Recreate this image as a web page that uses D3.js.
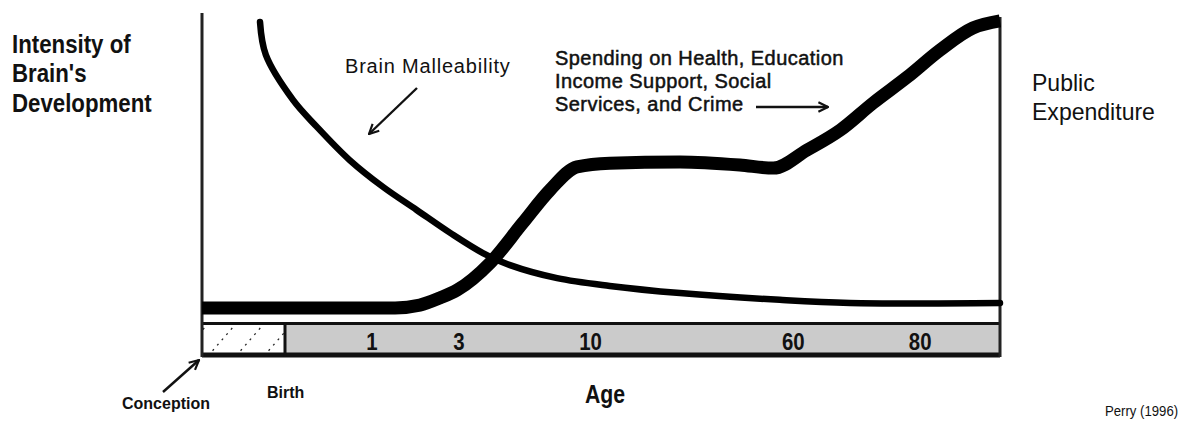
<!DOCTYPE html>
<html>
<head>
<meta charset="utf-8">
<script src="https://cdn.jsdelivr.net/npm/d3@7"></script>
<style>
  body { margin: 0; background: #fff; }
  text { font-family: "Liberation Sans", Arial, sans-serif; fill: #111; }
</style>
</head>
<body>
<div id="my_dataviz"></div>
<script>
// position along the life axis (0 = conception, 100 = end) and curve intensity (0-100)
const spendingPos = [0, 24.2, 27.3, 29.8, 32.0, 36.1, 40.2, 43.6, 47.0, 51.1, 59.9, 67.4, 71.6, 75.8, 80.0, 84.1, 88.4, 92.5, 96.6, 100];
const spendingVal = [3.9, 3.9, 4.8, 7.1, 9.7, 18.4, 31.3, 41.9, 49.4, 50.6, 51.0, 50.0, 49.0, 54.8, 61.3, 70.0, 78.4, 87.1, 94.2, 96.5];

const brainPos = [7.27, 8.0, 11.4, 14.4, 18.5, 22.7, 26.9, 31.1, 35.2, 38.6, 44.5, 51.1, 59.9, 72.4, 81.2, 100];
const brainVal = [96.1, 85.5, 71.0, 62.3, 51.6, 42.9, 35.5, 28.1, 21.6, 17.7, 13.5, 11.0, 8.7, 6.5, 5.5, 5.5];

// age labels on the bar
const ageLabels = ["1", "3", "10", "60", "80"];
const agePos = [21.3, 32.2, 48.7, 74.1, 90.0];
const birthPos = 10.4;

const width = 1190, height = 426;
const margin = { top: 10, left: 202, right: 190, bottom: 104 };

const svg = d3.select("#my_dataviz")
  .append("svg")
  .attr("width", width)
  .attr("height", height);

const x = d3.scaleLinear().domain([0, 100]).range([margin.left, width - margin.right]);
const y = d3.scaleLinear().domain([0, 100]).range([320, 10]);

const defs = svg.append("defs");

// hatch pattern for the prenatal part of the bar
const pat = defs.append("pattern")
  .attr("id", "hatch")
  .attr("patternUnits", "userSpaceOnUse")
  .attr("width", 28).attr("height", 36)
  .attr("x", x(0) + 6).attr("y", 322);
pat.append("rect").attr("width", 28).attr("height", 36).attr("fill", "#fff");
pat.append("line")
  .attr("x1", 0).attr("y1", 34).attr("x2", 26).attr("y2", 4)
  .attr("stroke", "#222").attr("stroke-width", 1.3)
  .attr("stroke-dasharray", "2 5");

// age bar
const barTop = 322, barBottom = 357;
svg.append("rect")
  .attr("x", x(birthPos)).attr("y", barTop)
  .attr("width", x(100) - x(birthPos)).attr("height", barBottom - barTop)
  .attr("fill", "#cbcbcb");
svg.append("rect")
  .attr("x", x(0)).attr("y", barTop)
  .attr("width", x(birthPos) - x(0)).attr("height", barBottom - barTop)
  .attr("fill", "url(#hatch)");
svg.append("line")
  .attr("x1", x(0)).attr("x2", x(100))
  .attr("y1", barTop + 1.5).attr("y2", barTop + 1.5)
  .attr("stroke", "#111").attr("stroke-width", 3);
svg.append("line")
  .attr("x1", x(0)).attr("x2", x(100))
  .attr("y1", barBottom - 2).attr("y2", barBottom - 2)
  .attr("stroke", "#111").attr("stroke-width", 5);
svg.append("line")
  .attr("x1", x(birthPos)).attr("x2", x(birthPos))
  .attr("y1", barTop).attr("y2", barBottom)
  .attr("stroke", "#111").attr("stroke-width", 3);

// condensed text helper: font size, weight and horizontal squeeze
const label = (lines, x0, y0, size, weight, dy, k, spacing) => {
  const t = svg.append("text")
    .attr("transform", `translate(${x0},${y0}) scale(${k || 1},1)`)
    .style("font-size", size + "px")
    .style("font-weight", weight)
    .style("letter-spacing", (spacing || 0) + "px");
  lines.forEach((s, i) => t.append("tspan").attr("x", 0).attr("y", i * dy).text(s));
  return t;
};

svg.selectAll(".ageLabel")
  .data(ageLabels)
  .join("text")
  .attr("class", "ageLabel")
  .attr("transform", (d, i) => `translate(${x(agePos[i])},350) scale(0.85,1)`)
  .attr("text-anchor", "middle")
  .style("font-size", "24px")
  .style("font-weight", "bold")
  .text(d => d);

// vertical axes
svg.append("line")
  .attr("x1", x(0)).attr("x2", x(0))
  .attr("y1", 13).attr("y2", barBottom)
  .attr("stroke", "#222").attr("stroke-width", 3);
svg.append("line")
  .attr("x1", x(100)).attr("x2", x(100))
  .attr("y1", 17).attr("y2", barBottom)
  .attr("stroke", "#222").attr("stroke-width", 3);

// curves
const line = d3.line()
  .x(d => x(d[0]))
  .y(d => y(d[1]))
  .curve(d3.curveMonotoneX);

svg.append("path")
  .datum(spendingPos.map((p, i) => [p, spendingVal[i]]))
  .attr("d", line)
  .attr("fill", "none")
  .attr("stroke", "#000")
  .attr("stroke-width", 13);

svg.append("path")
  .datum(brainPos.map((p, i) => [p, brainVal[i]]))
  .attr("d", line.curve(d3.curveCatmullRom.alpha(0.5)))
  .attr("fill", "none")
  .attr("stroke", "#000")
  .attr("stroke-width", 6.5)
  .attr("stroke-linecap", "round");

// arrow heads
defs.append("marker")
  .attr("id", "arrow")
  .attr("viewBox", "0 0 10 10")
  .attr("refX", 9).attr("refY", 5)
  .attr("markerWidth", 5).attr("markerHeight", 5)
  .attr("markerUnits", "strokeWidth")
  .attr("orient", "auto")
  .append("path")
  .attr("d", "M1,1 L9,5 L1,9")
  .attr("fill", "none")
  .attr("stroke", "#111")
  .attr("stroke-width", 1.8);

const arrow = (x1, y1, x2, y2) => svg.append("line")
  .attr("x1", x1).attr("y1", y1).attr("x2", x2).attr("y2", y2)
  .attr("stroke", "#111").attr("stroke-width", 2.4)
  .attr("marker-end", "url(#arrow)");

arrow(417, 88, 369, 134);
arrow(756, 107, 828, 107);
arrow(163, 392, 199, 360);

// labels
label(["Intensity of", "Brain's", "Development"], 12, 53, 25, "bold", 29.5, 0.89);
label(["Brain Malleability"], 345, 73, 20, "normal", 0, 1, 0.8);
label(["Spending on Health, Education", "Income Support, Social", "Services, and Crime"], 555, 65, 20, "normal", 23, 1.0, 0.45)
  .style("stroke", "#111").style("stroke-width", 0.5);
label(["Public", "Expenditure"], 1032, 91, 24, "normal", 29, 0.96);
label(["Conception"], 122, 409, 16, "bold", 0, 1);
label(["Birth"], 267, 398, 16, "bold", 0, 1);
label(["Age"], 585, 403, 25, "bold", 0, 0.85);
label(["Perry (1996)"], 1105, 416, 14, "normal", 0, 0.94);
</script>
</body>
</html>
